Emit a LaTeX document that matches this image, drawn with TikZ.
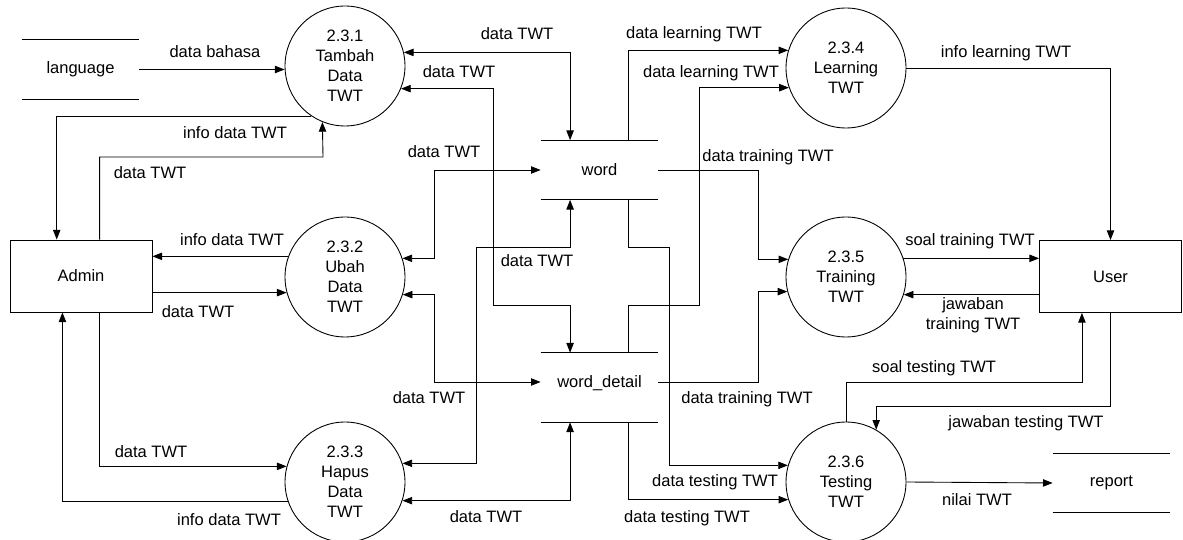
\documentclass[tikz,border=0pt]{standalone}
\usepackage{fontspec}
\setmainfont{Liberation Sans}
\usetikzlibrary{arrows.meta,calc}
\newcommand{\storeLines}[1]{%%
  %% The two lines of a data store.
  \draw[lineStyle] (#1.north west) -- (#1.north east);
  \draw[lineStyle] (#1.south west) -- (#1.south east);
}
\newcommand{\quarterPoints}[3]{%%
  \coordinate (#1A) at ($(#2 west)!.25!(#2 east)$);
  \coordinate (#1B) at ($(#2 west)!.75!(#2 east)$);
}

\begin{document}
\begin{tikzpicture}[%%
  x=0.02cm,y=-0.02cm,%%
  every node/.append style={font=\fontsize{9.4}{11.4}\selectfont},%%
  lineStyle/.style={-,line width=0.5pt},%%
  flowStyle/.style={-{Triangle[length=5.5pt,width=4.2pt]},line width=0.5pt},%%
  biflowStyle/.style={{Triangle[length=5.5pt,width=4.2pt]}-{Triangle[length=5.5pt,width=4.2pt]},line width=0.5pt},%%
  processStyle/.style={draw,circle,line width=0.5pt,minimum size=2.4cm,inner sep=0pt,align=center},%%
  entityStyle/.style={draw,rectangle,line width=0.5pt,minimum width=2.84cm,minimum height=1.44cm,inner sep=0pt},%%
  storeStyle/.style={minimum width=2.34cm,minimum height=1.18cm,inner sep=0pt},%%
  labelStyle/.style={inner sep=0pt,text height=6.8pt,text depth=0pt},%%
  twoLineStyle/.style={inner sep=0pt,align=center}%%
]
%%
%%
\useasboundingbox (0,0) rectangle (1183,540);
\pgfmathsetmacro{\xleft}{345}
\pgfmathsetmacro{\xright}{846}
%%
%% Processes, entities and stores.
\node[processStyle] (p231) at (\xleft,66) {2.3.1\\Tambah\\Data\\TWT};
\node[processStyle] (p232) at (\xleft,277) {2.3.2\\Ubah\\Data\\TWT};
\node[processStyle] (p233) at (\xleft,482) {2.3.3\\Hapus\\Data\\TWT};
\node[processStyle] (p234) at (\xright,68) {2.3.4\\Learning\\TWT};
\node[processStyle] (p235) at (\xright,277) {2.3.5\\Training\\TWT};
\node[processStyle] (p236) at (\xright,482) {2.3.6\\Testing\\TWT};
\node[entityStyle] (admin) at (81,276) {Admin};
\node[entityStyle] (user) at (1110.5,276.5) {User};
\node[storeStyle] (language) at (80.5,69.5) {language};
\node[storeStyle] (word) at (599.5,170) {word};
\node[storeStyle,minimum height=1.38cm,text height=7pt,text depth=6.5pt] (wordDetail) at (599.5,387.5) {word\_detail};
\node[storeStyle] (report) at (1111.5,483) {report};
\storeLines{language}
\storeLines{word}
\storeLines{wordDetail}
\storeLines{report}
%%
\quarterPoints{wordTop}{word.north}{}
\quarterPoints{wordBot}{word.south}{}
\quarterPoints{detailTop}{wordDetail.north}{}
\quarterPoints{detailBot}{wordDetail.south}{}
\coordinate (detailIn) at ($(wordDetail.west)+(0,-5.5)$);
\coordinate (detailOut) at ($(wordDetail.east)+(0,-5.5)$);
\coordinate (adminTopA) at ($(admin.north west)!.33!(admin.north east)$);
\coordinate (adminTopB) at ($(admin.north west)!.63!(admin.north east)$);
\coordinate (adminBotA) at ($(admin.south west)!.37!(admin.south east)$);
\coordinate (adminBotB) at ($(admin.south west)!.63!(admin.south east)$);
\coordinate (userBotA) at ($(user.south west)!.3!(user.south east)$);
%%
%% Admin side.
\draw[flowStyle] (language.east) -- (language.east -| p231.west);
\draw[flowStyle] (p231.236.4) -| (adminTopA);
\draw[flowStyle] (adminTopB) |- (323,157) -- (p231.248.5);
\draw[flowStyle] (p232.160.5) -- (p232.160.5 -| admin.east);
\draw[flowStyle] (admin.east |- p232.195.5) -- (p232.195.5);
\draw[flowStyle] (adminBotB) |- (p233.165.5);
\draw[flowStyle] (p233.199.5) -| (adminBotA);
%%
%% Stores word and word_detail.
\draw[biflowStyle] (p231.13.5) -| (wordTopA);
\draw[biflowStyle] (p231.338.5) -| (493,305) -| (detailTopA);
\draw[biflowStyle] (p232.18.5) -| (434,170) -- (word.west);
\draw[biflowStyle] (p233.18.5) -| (476,247) -| (wordBotA);
\draw[biflowStyle] (p232.343.5) -| (434,382) -- (detailIn);
\draw[biflowStyle] (p233.342.5) -| (detailBotA);
\draw[flowStyle] (wordTopB) |- (p234.163.5);
\draw[flowStyle] (detailTopB) |- (699,305) |- (p234.199.5);
\draw[flowStyle] (word.east) -- (758,170) |- (p235.163.5);
\draw[flowStyle] (wordBotB) |- (669,247) |- (p236.164.5);
\draw[flowStyle] (detailOut) -- (758,382) |- (p235.194.5);
\draw[flowStyle] (detailBotB) |- (p236.197.5);
%%
%% User side.
\draw[flowStyle] (p234.east) -| (user.north);
\draw[flowStyle] (p235.18.5) -- (p235.18.5 -| user.west);
\draw[flowStyle] (user.west |- p235.343.5) -- (p235.343.5);
\draw[flowStyle] (p236.north) |- ($(userBotA)+(0,70)$) -- (userBotA);
\draw[flowStyle] (user.south) -- ++(0,94) -| (p236.60);
\draw[flowStyle] (p236.east) -- (report.west);
%%
%% Flow labels.
\node[labelStyle] (dataBahasaLabel) at (215,52) {data bahasa};
\node[labelStyle] (infoTopLabel) at (235,133) {info data TWT};
\node[labelStyle] (dataTopLabel) at (150,173) {data TWT};
\node[labelStyle] (infoMidLabel) at (232,240) {info data TWT};
\node[labelStyle] (dataMidLabel) at (198,312) {data TWT};
\node[labelStyle] (dataLowLabel) at (151,452) {data TWT};
\node[labelStyle] (infoLowLabel) at (229,520) {info data TWT};
\node[labelStyle] (wordALabel) at (517,34) {data TWT};
\node[labelStyle] (detailALabel) at (459,72) {data TWT};
\node[labelStyle] (wordBLabel) at (444,152) {data TWT};
\node[labelStyle] (wordCLabel) at (537,261) {data TWT};
\node[labelStyle] (detailBLabel) at (429,398) {data TWT};
\node[labelStyle] (detailCLabel) at (486,517) {data TWT};
\node[labelStyle] (learnALabel) at (694,33) {data learning TWT};
\node[labelStyle] (learnBLabel) at (711,72) {data learning TWT};
\node[labelStyle] (trainALabel) at (768,156) {data training TWT};
\node[labelStyle] (trainBLabel) at (747,398) {data training TWT};
\node[labelStyle] (testALabel) at (715,481) {data testing TWT};
\node[labelStyle] (testBLabel) at (687,517) {data testing TWT};
\node[labelStyle] (infoLearnLabel) at (1006,52) {info learning TWT};
\node[labelStyle] (soalTrainLabel) at (970,240) {soal training TWT};
\node[twoLineStyle] (jawabTrainLabel) at (973,315) {jawaban\\training TWT};
\node[labelStyle] (soalTestLabel) at (934,367) {soal testing TWT};
\node[labelStyle] (jawabTestLabel) at (1026,422) {jawaban testing TWT};
\node[labelStyle] (nilaiLabel) at (977,500) {nilai TWT};
\end{tikzpicture}
\end{document}
